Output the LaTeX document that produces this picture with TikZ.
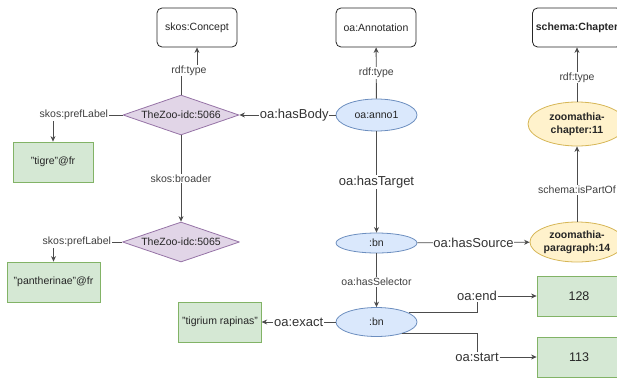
\documentclass[tikz,border=0pt]{standalone}
\usepackage{fontspec}
\setmainfont{Liberation Sans}
\usepackage{xcolor}
\usetikzlibrary{shapes.geometric,arrows.meta}
\definecolor{litfill}{HTML}{D5E8D4}
\definecolor{litdraw}{HTML}{82B366}
\definecolor{idcfill}{HTML}{E1D5E7}
\definecolor{idcdraw}{HTML}{9673A6}
\definecolor{bnfill}{HTML}{DAE8FC}
\definecolor{bndraw}{HTML}{6C8EBF}
\definecolor{resfill}{HTML}{FFF2CC}
\definecolor{resdraw}{HTML}{D6B656}
\tikzset{
	cls/.style={draw=black!85,line width=0.8pt,fill=white,rounded corners=5pt,minimum width=80pt,minimum height=39pt},
	lit/.style={draw=litdraw,line width=0.8pt,fill=litfill,minimum width=80pt,minimum height=40pt},
	idc/.style={diamond,aspect=2.9,inner sep=0pt,line width=0.8pt,line join=round,draw=idcdraw,fill=idcfill,minimum width=116pt,minimum height=40pt},
	blank/.style={ellipse,inner sep=0pt,line width=0.8pt,draw=bndraw,fill=bnfill,minimum width=81pt},
	res/.style={ellipse,inner sep=0pt,line width=0.8pt,draw=resdraw,fill=resfill,align=center,font=\fontsize{10.5}{13}\selectfont\bfseries},
	lab/.style={fill=white,inner sep=0.8pt,text=black!75,font=\fontsize{10.5}{12}\selectfont},
	biglab/.style={fill=white,inner sep=0.8pt,text=black!80,font=\fontsize{13}{15}\selectfont},
	link/.style={draw=black!70,line width=0.85pt}
}
\begin{document}
\begin{tikzpicture}[x=1pt,y=-1pt,>={Stealth[length=5.5pt,width=5pt]},
	every node/.style={font=\fontsize{10.5}{12}\selectfont,text=black!85}]
		\useasboundingbox (0,0) rectangle (617,380);
		\clip (0,0) rectangle (617,380);
		% classes
		\node[cls] (concept) at (197,27.5) {skos:Concept};
		\node[cls] (annotation) at (376,27.5) {oa:Annotation};
		\node[cls,minimum width=88pt,font=\fontsize{10.5}{12}\selectfont\bfseries] (chapter) at (577,27.5) {schema:Chapter};
		% resources
		\node[idc] (idc5066) at (181,115) {TheZoo-idc:5066};
		\node[idc,minimum width=117pt] (idc5065) at (181,242) {TheZoo-idc:5065};
		\node[blank,minimum height=32pt] (anno) at (376.5,115) {oa:anno1};
		\node[blank,minimum height=20pt] (target) at (376.5,243) {:bn};
		\node[blank,minimum height=29pt] (selector) at (376.5,322) {:bn};
		\node[res,minimum width=98pt,minimum height=44pt] (chap11) at (577,124) {zoomathia-\\chapter:11};
		\node[res,minimum width=94pt,minimum height=40pt] (para14) at (577,242) {zoomathia-\\paragraph:14};
		% literals
		\node[lit] (tigre) at (53,162) {"tigre"@fr};
		\node[lit,minimum width=93pt] (panth) at (53.5,282) {"pantherinae"@fr};
		\node[lit] (tigrium) at (220,322) {"tigrium rapinas"};
		\node[lit,minimum width=84pt,font=\fontsize{12.5}{14}\selectfont] (end) at (579,296) {128};
		\node[lit,minimum width=84pt,font=\fontsize{12.5}{14}\selectfont] (start) at (579,357) {113};
		\node[biglab] (endlab) at (477,296) {oa:end};
		\node[biglab] (startlab) at (477,357) {oa:start};
		%
		\path[->,link]
		% vertical arrows
		(anno) edge node[lab]{rdf:type} (annotation)
		(chap11) edge node[lab,pos=0.44]{rdf:type} (chapter)
		(para14) edge node[lab,pos=0.42]{schema:isPartOf} (chap11)
		(anno) edge node[biglab]{oa:hasTarget} (target)
		(target) edge node[lab,pos=0.53]{oa:hasSelector} (selector)
		(idc5066) edge node[lab]{skos:broader} (idc5065)
		% horizontal arrows
		(anno) edge node[biglab,pos=0.43]{oa:hasBody} (idc5066)
		(target) edge node[biglab]{oa:hasSource} (para14)
		(selector) edge node[biglab]{oa:exact} (tigrium)
		(endlab) edge (end)
		(startlab) edge (start);
		% labels
		\draw[->,link] (idc5066.west) -| node[lab,pos=0.35]{skos:prefLabel} (tigre.north);
		\draw[->,link] (idc5065.west) -| node[lab,pos=0.33]{skos:prefLabel} (panth.north);
		\draw[->,link] (idc5066.north) -- ++(0,-24) -| node[lab,pos=0.25]{rdf:type} (concept.south);
		% offsets
		\draw[link] (selector.16) -| (endlab.south);
		\draw[link] (selector.-25) -| (startlab.north);
\end{tikzpicture}
\end{document}
